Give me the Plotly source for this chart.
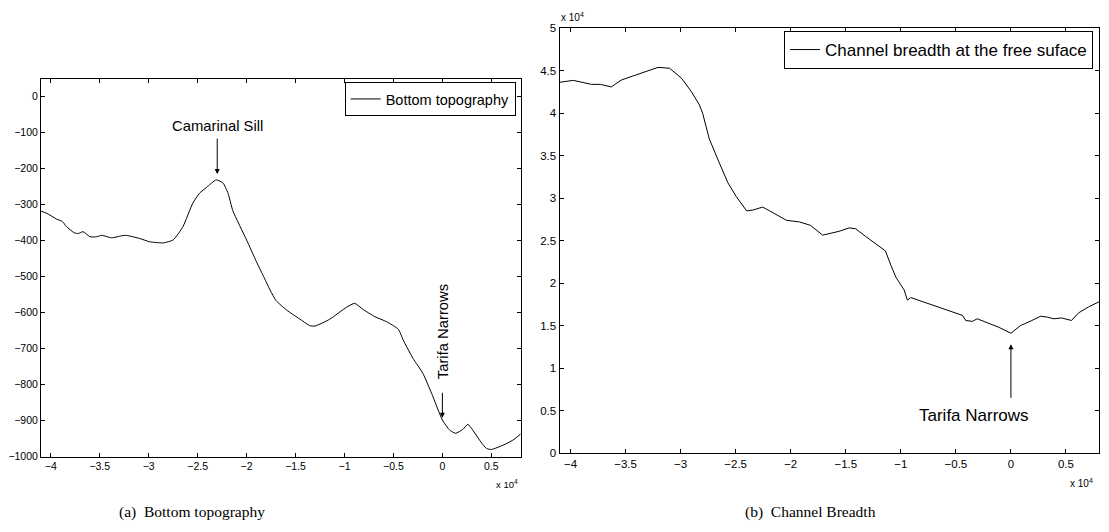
import plotly.graph_objects as go

# ---------------- data ----------------
# (a) bottom topography: x in units of 1e4 m, depth in m
x_topo = [-4.10, -4.04, -3.94, -3.88, -3.84, -3.76, -3.72, -3.67, -3.60, -3.53,
          -3.48, -3.38, -3.24, -3.09, -2.99, -2.85, -2.75, -2.65, -2.55, -2.48,
          -2.41, -2.31, -2.24, -2.19, -2.14, -2.00, -1.90, -1.82, -1.76, -1.70,
          -1.59, -1.46, -1.355, -1.30, -1.15, -0.98, -0.896, -0.81, -0.69, -0.57,
          -0.45, -0.40, -0.30, -0.20, -0.11, 0.0, 0.074, 0.135, 0.21, 0.26,
          0.31, 0.38, 0.45, 0.50, 0.62, 0.72, 0.80]
y_topo = [-318, -324, -340, -347, -361, -378, -380, -375, -389, -389,
          -385, -392, -385, -394, -403, -406, -398, -361, -296, -268,
          -252, -231, -240, -268, -317, -398, -458, -503, -537, -566,
          -593, -617, -636, -637, -618, -585, -574, -591, -611, -625,
          -646, -676, -727, -768, -824, -898, -926, -935, -924, -910,
          -926, -954, -977, -980, -968, -954, -937]

# (b) channel breadth: x in units of 1e4 m, breadth in units of 1e4 m
x_br = [-4.10, -3.975, -3.81, -3.73, -3.63, -3.54, -3.43, -3.31, -3.205, -3.10,
        -2.99, -2.90, -2.83, -2.80, -2.74, -2.66, -2.57, -2.495, -2.40, -2.345,
        -2.255, -2.19, -2.04, -1.92, -1.82, -1.71, -1.56, -1.47, -1.41, -1.32,
        -1.20, -1.14, -1.09, -1.045, -0.97, -0.94, -0.91, -0.714, -0.56, -0.44,
        -0.41, -0.35, -0.306, -0.23, -0.11, 0.0, 0.087, 0.19, 0.27, 0.33,
        0.39, 0.46, 0.55, 0.615, 0.705, 0.80]
y_br = [4.364, 4.387, 4.34, 4.34, 4.31, 4.39, 4.44, 4.49, 4.54, 4.53,
        4.41, 4.25, 4.10, 4.00, 3.70, 3.45, 3.18, 3.02, 2.85, 2.86,
        2.895, 2.85, 2.74, 2.72, 2.68, 2.565, 2.61, 2.65, 2.64, 2.55,
        2.435, 2.38, 2.21, 2.07, 1.92, 1.80, 1.83, 1.74, 1.67, 1.62,
        1.56, 1.55, 1.58, 1.54, 1.48, 1.41, 1.50, 1.56, 1.61, 1.60,
        1.58, 1.59, 1.56, 1.65, 1.72, 1.78]

x_ticks = [-4, -3.5, -3, -2.5, -2, -1.5, -1, -0.5, 0, 0.5]
x_ticktext = ["\u22124", "\u22123.5", "\u22123", "\u22122.5", "\u22122", "\u22121.5", "\u22121", "\u22120.5", "0", "0.5"]
y_topo_ticks = [0, -100, -200, -300, -400, -500, -600, -700, -800, -900, -1000]
y_br_ticks = [0, 0.5, 1, 1.5, 2, 2.5, 3, 3.5, 4, 4.5, 5]

legend_a = "Bottom topography"
legend_b = "Channel breadth at the free suface"
caption_a = "(a)  Bottom topography"
caption_b = "(b)  Channel Breadth"

# annotated points
sill_x, sill_y = -2.30, -215
tarifa_topo_x, tarifa_topo_y = 0.0, -892
tarifa_br_x, tarifa_br_y = 0.0, 1.28

FONT = "Liberation Sans"
W, H = 1109, 532

fig = go.Figure()
fig.add_trace(go.Scatter(x=x_topo, y=y_topo, mode="lines", name=legend_a,
                         line=dict(color="black", width=1, shape="spline", smoothing=0.5),
                         xaxis="x", yaxis="y", legend="legend"))
fig.add_trace(go.Scatter(x=x_br, y=y_br, mode="lines", name=legend_b,
                         line=dict(color="black", width=1),
                         xaxis="x2", yaxis="y2", legend="legend2"))

axis_common = dict(showgrid=False, zeroline=False, showline=True, linecolor="black",
                   linewidth=1, mirror="ticks", ticks="inside", ticklen=4,
                   tickcolor="black", tickwidth=1)

fig.update_layout(
    width=W, height=H, autosize=False,
    margin=dict(l=0, r=0, t=0, b=0, autoexpand=False),
    paper_bgcolor="white", plot_bgcolor="white",
    font=dict(family=FONT, color="black"),
    xaxis=dict(domain=[41 / W, 520.7 / W], range=[-4.1, 0.8], tickvals=x_ticks,
               ticktext=x_ticktext, tickfont=dict(size=10.5), anchor="y", **axis_common),
    yaxis=dict(domain=[1 - 456.7 / H, 1 - 78.7 / H], range=[-1000, 50], tickvals=y_topo_ticks,
               tickfont=dict(size=10.5), anchor="x", **axis_common),
    xaxis2=dict(domain=[559.5 / W, 1099 / W], range=[-4.1, 0.8], tickvals=x_ticks,
                ticktext=x_ticktext, tickfont=dict(size=11.5), anchor="y2", **axis_common),
    yaxis2=dict(domain=[1 - 453 / H, 1 - 28.3 / H], range=[0, 5], tickvals=y_br_ticks,
                tickfont=dict(size=11.5), anchor="x2", **axis_common),
    legend=dict(x=515.7 / W, y=1 - 82 / H, xanchor="right", yanchor="top",
                bordercolor="black", borderwidth=1, bgcolor="white",
                font=dict(size=14.5, family=FONT), itemwidth=30,
                tracegroupgap=0),
    legend2=dict(x=1093 / W, y=1 - 31 / H, xanchor="right", yanchor="top",
                 bordercolor="black", borderwidth=1, bgcolor="white",
                 font=dict(size=17, family=FONT), itemwidth=30,
                 tracegroupgap=0),
    showlegend=True,
)

ann = []
# Camarinal Sill (text + arrow)
ann.append(dict(x=sill_x, y=sill_y, xref="x", yref="y", text="Camarinal Sill", showarrow=True,
                ax=0, ay=-48, arrowhead=2, arrowsize=1, arrowwidth=1, arrowcolor="black",
                startstandoff=3, font=dict(size=14.8, family=FONT)))
# Tarifa Narrows (a) (rotated text + arrow)
ann.append(dict(x=tarifa_topo_x, y=tarifa_topo_y, xref="x", yref="y", text="Tarifa Narrows",
                showarrow=True, ax=0, ay=-86, textangle=-90, arrowhead=2, arrowsize=1,
                arrowwidth=1, arrowcolor="black", startstandoff=12,
                font=dict(size=14.8, family=FONT)))
# Tarifa Narrows (b)
ann.append(dict(x=tarifa_br_x, y=tarifa_br_y, xref="x2", yref="y2", text="", showarrow=True,
                ax=0, ay=55, arrowhead=2, arrowsize=1, arrowwidth=1, arrowcolor="black"))
ann.append(dict(x=-0.339, y=0.444, xref="x2", yref="y2", text="Tarifa Narrows", showarrow=False,
                font=dict(size=17, family=FONT)))
# exponent labels
ann.append(dict(x=520 / W, y=1 - 484 / H, xref="paper", yref="paper", xanchor="right",
                yanchor="middle", text="x 10<sup>4</sup>", showarrow=False, font=dict(size=9.5)))
ann.append(dict(x=1095 / W, y=1 - 483 / H, xref="paper", yref="paper", xanchor="right",
                yanchor="middle", text="x 10<sup>4</sup>", showarrow=False, font=dict(size=10)))
ann.append(dict(x=559 / W, y=1 - 17 / H, xref="paper", yref="paper", xanchor="left",
                yanchor="middle", text="x 10<sup>4</sup>", showarrow=False, font=dict(size=10)))
# captions
ann.append(dict(x=192 / W, y=1 - 512 / H, xref="paper", yref="paper", xanchor="center",
                yanchor="middle", text=caption_a, showarrow=False,
                font=dict(size=15.5, family="Liberation Serif")))
ann.append(dict(x=810 / W, y=1 - 512 / H, xref="paper", yref="paper", xanchor="center",
                yanchor="middle", text=caption_b, showarrow=False,
                font=dict(size=15.5, family="Liberation Serif")))
fig.update_layout(annotations=ann)

fig.write_html("out.html", config={"displayModeBar": False},
               post_script="document.body.style.margin='0';document.body.style.overflow='hidden';")
